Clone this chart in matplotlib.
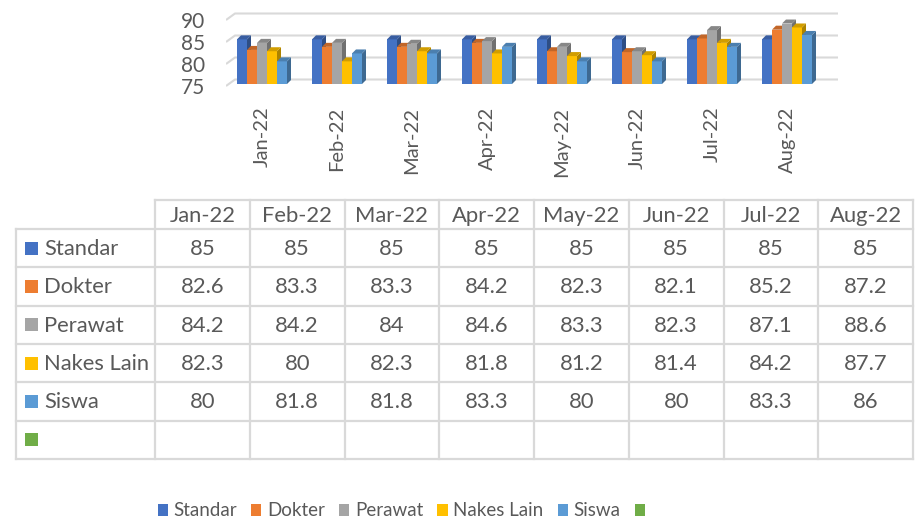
import matplotlib.pyplot as plt
from matplotlib.patches import Polygon, Rectangle, Patch
import matplotlib.colors as mcolors

months = ['Jan-22', 'Feb-22', 'Mar-22', 'Apr-22', 'May-22', 'Jun-22', 'Jul-22', 'Aug-22']
series_names = ['Standar', 'Dokter', 'Perawat', 'Nakes Lain', 'Siswa']
standar = [85, 85, 85, 85, 85, 85, 85, 85]
dokter = [82.6, 83.3, 83.3, 84.2, 82.3, 82.1, 85.2, 87.2]
perawat = [84.2, 84.2, 84, 84.6, 83.3, 82.3, 87.1, 88.6]
nakes_lain = [82.3, 80, 82.3, 81.8, 81.2, 81.4, 84.2, 87.7]
siswa = [80, 81.8, 81.8, 83.3, 80, 80, 83.3, 86]
yticks = [75, 80, 85, 90]

values = [standar, dokter, perawat, nakes_lain, siswa]
colors = ['#4472C4', '#ED7D31', '#A5A5A5', '#FFC000', '#5B9BD5']
empty_color = '#70AD47'
txt = '#595959'
grid_c = '#D9D9D9'

plt.rcParams['font.family'] = ['Lato', 'DejaVu Sans']

W, H = 921, 524
fig = plt.figure(figsize=(W / 100, H / 100), dpi=100)

# chart axes, in pixel layout
px_l, px_r, px_t, px_b = 226, 840, 8, 90
ax = fig.add_axes([px_l / W, 1 - px_b / H, (px_r - px_l) / W, (px_b - px_t) / H])
x0px, xstep = 262, 75
yscale = 4.4  # px per unit
ax.set_xlim((px_l - x0px) / xstep, (px_r - x0px) / xstep)
ax.set_ylim(75 - (px_b - 86) / yscale, 75 + (86 - px_t) / yscale)
for s in ax.spines.values():
    s.set_visible(False)
ax.patch.set_alpha(0)

# 3D back wall gridlines
wdx, wdy = 9 / xstep, 6.5 / yscale
xl = (px_l - x0px) / xstep
xr = (838 - x0px) / xstep
for v in yticks:
    ax.plot([xl, xl + wdx, xr], [v, v + wdy, v + wdy], color=grid_c, lw=1.5, zorder=1,
            solid_capstyle='butt')

# bars with fake 3D depth
bw = 10 / xstep
ddx, ddy = 4 / xstep, 4 / yscale
base, lift = 75.45, 0.6


def shade(c, f):
    r, g, b = mcolors.to_rgb(c)
    return (r * f, g * f, b * f)


for j, (vals, c) in enumerate(zip(values, colors)):
    xs = [i - 2.5 * bw + j * bw for i in range(len(months))]
    tops = [v + lift for v in vals]
    ax.bar(xs, [t - base for t in tops], width=bw, bottom=base, align='edge',
           color=c, zorder=3 + j, linewidth=0)
    for x, t in zip(xs, tops):
        side = [(x + bw, base), (x + bw + ddx, base + ddy), (x + bw + ddx, t + ddy), (x + bw, t)]
        top = [(x, t), (x + ddx, t + ddy), (x + bw + ddx, t + ddy), (x + bw, t)]
        ax.add_patch(Polygon(side, closed=True, facecolor=shade(c, 0.68), lw=0, zorder=3.5 + j))
        ax.add_patch(Polygon(top, closed=True, facecolor=shade(c, 0.82), lw=0, zorder=3.5 + j))

ax.set_yticks(yticks)
ax.set_yticklabels([str(v) for v in yticks], fontsize=15, color=txt)
ax.set_xticks(range(len(months)))
ax.set_xticklabels(months, rotation=90, fontsize=14.5, color=txt)
ax.tick_params(axis='y', length=0, pad=15)
ax.tick_params(axis='x', length=0, pad=12)

# data table drawn on an overlay in pixel coordinates
tb = fig.add_axes([0, 0, 1, 1])
tb.set_xlim(0, W)
tb.set_ylim(H, 0)
tb.axis('off')
tb.patch.set_alpha(0)

col_x = [16] + [155 + 94.75 * k for k in range(len(months) + 1)]
row_y = [200] + [229 + 38.33 * k for k in range(len(series_names) + 2)]
lkw = dict(color=grid_c, lw=1.6, solid_capstyle='projecting')
tb.plot([col_x[1], col_x[-1]], [row_y[0], row_y[0]], **lkw)
for y in row_y[1:]:
    tb.plot([col_x[0], col_x[-1]], [y, y], **lkw)
tb.plot([col_x[0], col_x[0]], [row_y[1], row_y[-1]], **lkw)
for x in col_x[1:]:
    tb.plot([x, x], [row_y[0], row_y[-1]], **lkw)

fs = 15.8
for k, m in enumerate(months):
    tb.text((col_x[k + 1] + col_x[k + 2]) / 2, (row_y[0] + row_y[1]) / 2 + 1, m,
            ha='center', va='center', fontsize=fs, color=txt)

rows = list(zip(series_names, colors, values)) + [('', empty_color, [''] * len(months))]
for r, (name, c, vals) in enumerate(rows):
    yc = (row_y[r + 1] + row_y[r + 2]) / 2
    tb.add_patch(Rectangle((25, yc - 6.5), 13, 13, facecolor=c, lw=0))
    tb.text(44, yc + 1, name, ha='left', va='center', fontsize=fs, color=txt)
    for k, v in enumerate(vals):
        tb.text((col_x[k + 1] + col_x[k + 2]) / 2, yc + 1, f'{v:g}' if v != '' else '',
                ha='center', va='center', fontsize=fs, color=txt)

# legend at the bottom
handles = [Patch(facecolor=c, label=n) for n, c in zip(series_names, colors)]
handles.append(Patch(facecolor=empty_color, label=''))
fig.legend(handles=handles, loc='center', bbox_to_anchor=(404 / W, 1 - 511 / H), ncol=6,
           frameon=False, fontsize=13.5, labelcolor=txt, handlelength=0.55, handleheight=0.55,
           handletextpad=0.3, columnspacing=0.75, borderpad=0)

fig.savefig('out.png', dpi=100)
